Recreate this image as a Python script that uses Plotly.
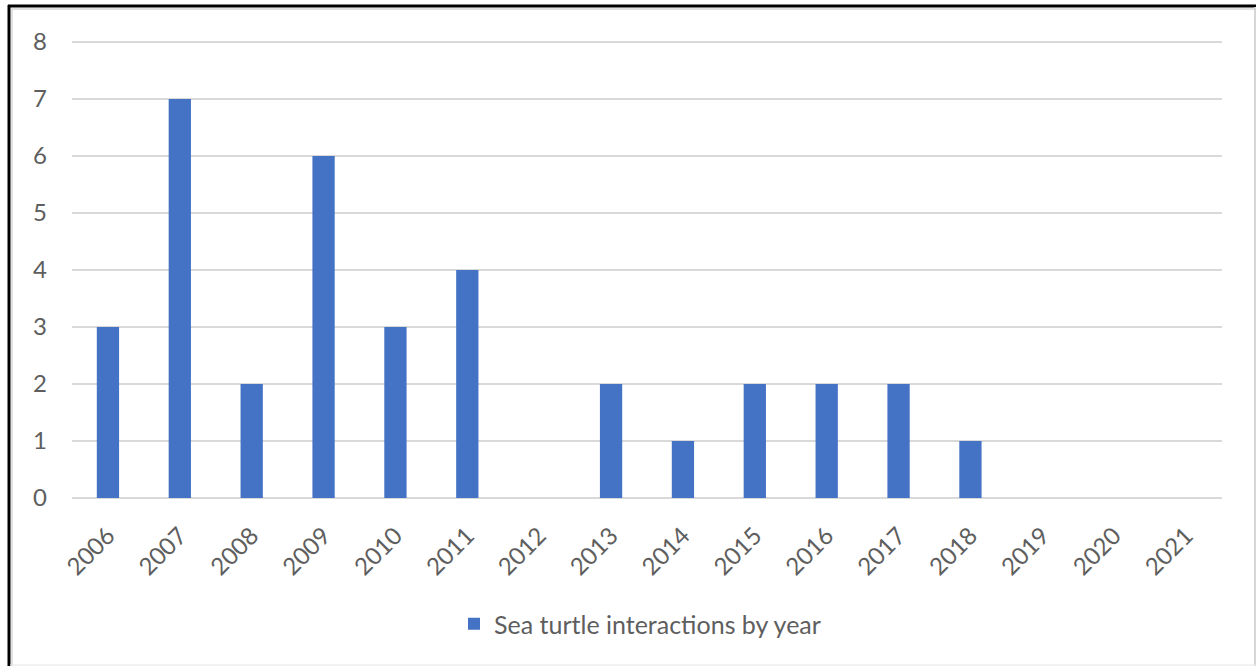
import plotly.graph_objects as go

# Sea turtle interactions recorded per year
years = ["2006", "2007", "2008", "2009", "2010", "2011", "2012", "2013",
         "2014", "2015", "2016", "2017", "2018", "2019", "2020", "2021"]
interactions = [3, 7, 2, 6, 3, 4, 0, 2, 1, 2, 2, 2, 1, 0, 0, 0]
y_ticks = [0, 1, 2, 3, 4, 5, 6, 7, 8]

W, H = 1257, 666
L, R, T, B = 72, 35, 39, 168
pw, ph = W - L - R, H - T - B
unit = 57  # pixels per interaction on the value axis

def px(x):
    return (x - L) / pw

def py(y):
    return (H - B - y) / ph

tick_font = dict(family="Lato, 'Open Sans', sans-serif", size=24, color="#5E5E5E")
legend_font = dict(family="Lato, 'Open Sans', sans-serif", size=25, color="#5E5E5E")

fig = go.Figure(
    go.Bar(
        x=years,
        y=interactions,
        name="Sea turtle interactions by year",
        marker=dict(color="#4472C4", line=dict(width=0)),
        showlegend=True,
    )
)

fig.update_layout(
    width=W,
    height=H,
    margin=dict(l=L, r=R, t=T, b=B),
    paper_bgcolor="white",
    plot_bgcolor="white",
    font=tick_font,
    bargap=0.69,
    showlegend=True,
    legend=dict(
        orientation="h",
        x=px(640),
        xanchor="center",
        y=py(624),
        yanchor="middle",
        font=legend_font,
        bgcolor="rgba(0,0,0,0)",
    ),
    xaxis=dict(
        type="category",
        tickangle=-45,
        showgrid=False,
        showline=False,
        ticks="",
        tickfont=tick_font,
        ticklabelstandoff=18,
    ),
    yaxis=dict(
        range=[0, ph / unit],
        tickvals=y_ticks,
        showgrid=True,
        gridcolor="#D9D9D9",
        gridwidth=2,
        zeroline=True,
        zerolinecolor="#D9D9D9",
        zerolinewidth=2,
        showline=False,
        ticks="",
        tickfont=tick_font,
        ticklabelstandoff=24,
    ),
)

# Frame around the chart: dark on the top/left edges, light on the right/bottom
shapes = [
    dict(type="line", x0=px(9), x1=px(9), y0=py(5), y1=py(666), line=dict(color="black", width=3)),
    dict(type="line", x0=px(8), x1=px(1256), y0=py(6), y1=py(6), line=dict(color="black", width=3)),
    dict(type="line", x0=px(12), x1=px(12), y0=py(8), y1=py(666), line=dict(color="#E0E0E0", width=2)),
    dict(type="line", x0=px(11), x1=px(1254), y0=py(9), y1=py(9), line=dict(color="#E0E0E0", width=2)),
    dict(type="line", x0=px(1255), x1=px(1255), y0=py(7), y1=py(666), line=dict(color="#D6D6D6", width=2)),
    dict(type="line", x0=px(10), x1=px(1256), y0=py(665), y1=py(665), line=dict(color="#E6E6E6", width=1)),
]
for s in shapes:
    s.update(xref="paper", yref="paper", layer="above")
fig.update_layout(shapes=shapes)

fig.write_html("out.html")
